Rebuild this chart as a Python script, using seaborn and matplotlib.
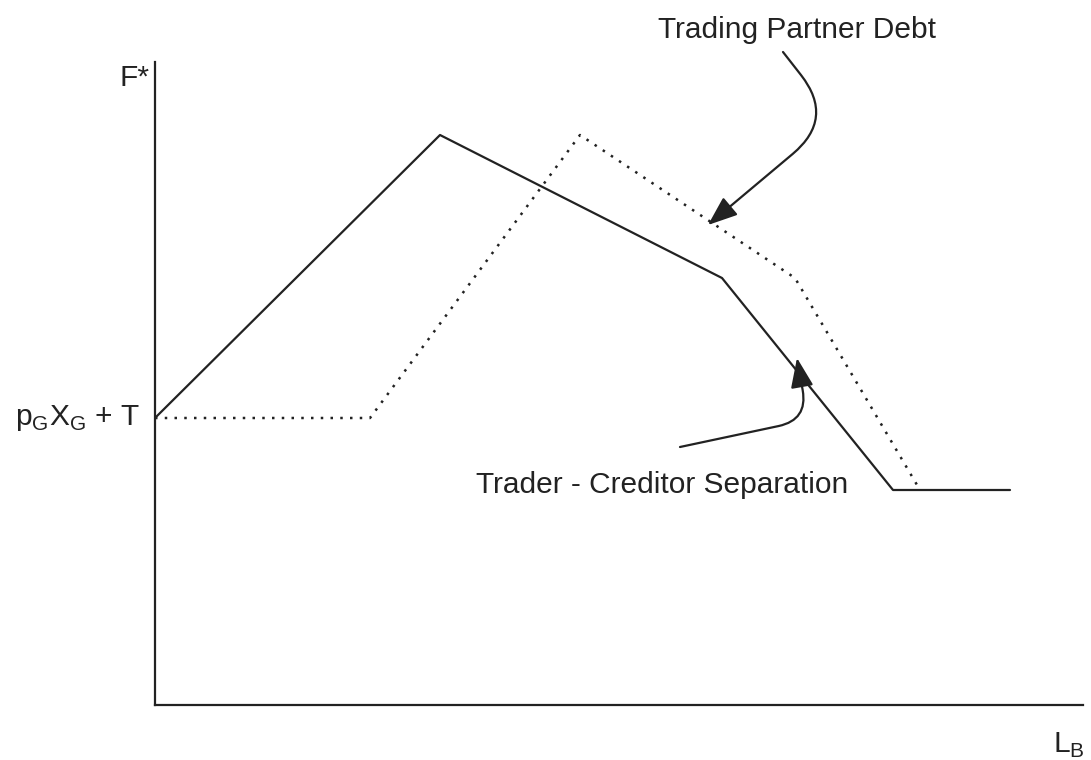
import matplotlib
matplotlib.use("Agg")
import matplotlib.pyplot as plt
import seaborn as sns
import pandas as pd

# valores (unidades arbitrarias)
lb_separacao = [0, 285, 567, 738, 855]
f_separacao = [287, 570, 427, 215, 215]

lb_parceiro = [0, 215, 425, 640, 765]
f_parceiro = [287, 287, 570, 427, 215]

sns.set_theme(style="white")
plt.rcParams['font.family'] = ['Liberation Sans', 'DejaVu Sans']
plt.rcParams['mathtext.fontset'] = 'custom'
plt.rcParams['mathtext.rm'] = 'Liberation Sans'

df = pd.concat([
    pd.DataFrame({"LB": lb_separacao, "F": f_separacao, "serie": "Trader - Creditor Separation"}),
    pd.DataFrame({"LB": lb_parceiro, "F": f_parceiro, "serie": "Trading Partner Debt"}),
])

fig = plt.figure(figsize=(10.91, 7.6), dpi=100)
ax = fig.add_axes([155 / 1091, 55 / 760, 928 / 1091, 643 / 760])

cor = "#222222"
sns.lineplot(data=df[df.serie == "Trader - Creditor Separation"], x="LB", y="F",
             estimator=None, sort=False, color=cor, lw=1.6, ax=ax)
sns.lineplot(data=df[df.serie == "Trading Partner Debt"], x="LB", y="F",
             estimator=None, sort=False, color=cor, lw=1.8,
             linestyle=(0, (1, 2.9)), ax=ax)

ax.set_xlim(0, 928)
ax.set_ylim(0, 643)
ax.set_xticks([])
ax.set_yticks([])
ax.set_xlabel("")
ax.set_ylabel("")
for lado in ["top", "right"]:
    ax.spines[lado].set_visible(False)
for lado in ["left", "bottom"]:
    ax.spines[lado].set_color(cor)
    ax.spines[lado].set_linewidth(1.6)

fs = 21.5
# rotulos dos eixos
ax.text(-5, 627, "F*", ha="right", va="center", fontsize=fs, color=cor)
ax.text(930, -40, r"L$_{\mathregular{B}}$", ha="right", va="center", fontsize=fs, color=cor)
ax.text(-15, 287, r"p$_{\mathregular{G}}$X$_{\mathregular{G}}$ + T", ha="right", va="center",
        fontsize=fs, color=cor)

seta = "-|>,head_length=0.65,head_width=0.25"

# setas com legendas
ax.annotate("Trading Partner Debt", xy=(553, 480), xytext=(642, 675),
            ha="center", va="center", fontsize=fs, color=cor, annotation_clip=False)
ax.annotate("", xy=(553, 480), xytext=(628, 653), annotation_clip=False,
            arrowprops=dict(arrowstyle=seta, color=cor, lw=1.6, mutation_scale=28,
                            shrinkA=0, shrinkB=0,
                            connectionstyle="angle,angleA=-52,angleB=40,rad=55"))

ax.annotate("Trader - Creditor Separation", xy=(642, 347), xytext=(507, 220),
            ha="center", va="center", fontsize=fs, color=cor, annotation_clip=False)
ax.annotate("", xy=(642, 347), xytext=(525, 258), annotation_clip=False,
            arrowprops=dict(arrowstyle=seta, color=cor, lw=1.6, mutation_scale=28,
                            shrinkA=0, shrinkB=0,
                            connectionstyle="angle,angleA=12,angleB=-80,rad=30"))

fig.savefig("out.png", dpi=100, facecolor="white")
